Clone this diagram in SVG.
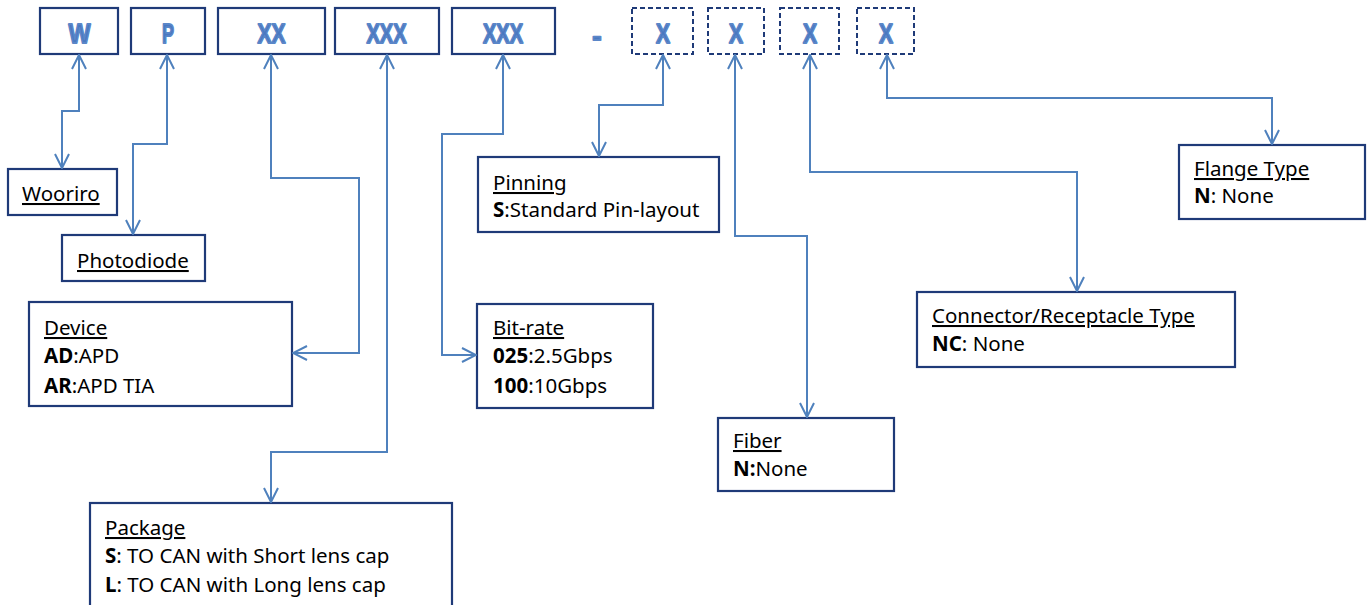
<svg xmlns="http://www.w3.org/2000/svg" width="1370" height="605" viewBox="0 0 1370 605">
<style>
.box{fill:#fff;stroke:#1f3a78;stroke-width:2.2}
.dbox{fill:#fff;stroke:#1f3a78;stroke-width:2;stroke-dasharray:5 3}
.code{font-family:"Liberation Sans",Arial,sans-serif;font-weight:bold;font-size:28px;fill:#4a78c0;stroke:#5a86c8;stroke-width:1.8;stroke-linejoin:round;text-anchor:middle}
.t{font-family:"Noto Sans","Open Sans",sans-serif;font-size:20.5px;fill:#000}
.u{text-decoration:underline}
.b{font-weight:bold}
.conn path{fill:none;stroke:#4f81bd;stroke-width:2}
</style>
<defs>
<marker id="arr" viewBox="0 0 16 16" refX="15" refY="8" markerWidth="16" markerHeight="16" markerUnits="userSpaceOnUse" orient="auto-start-reverse">
<path d="M1,1 L15,8 L1,15" fill="none" stroke="#4f81bd" stroke-width="2"/>
</marker>
</defs>

<g id="code-W"><rect class="box" x="40" y="8" width="78" height="46"/><text class="code" x="79.5" y="42.5" textLength="22" lengthAdjust="spacingAndGlyphs">W</text></g>
<g id="code-P"><rect class="box" x="131" y="8" width="74" height="46"/><text class="code" x="168" y="42.5" textLength="12" lengthAdjust="spacingAndGlyphs">P</text></g>
<g id="code-XX"><rect class="box" x="218" y="8" width="107" height="46"/><text class="code" x="271.5" y="42.5" textLength="28" lengthAdjust="spacingAndGlyphs">XX</text></g>
<g id="code-XXX1"><rect class="box" x="335" y="8" width="104" height="46"/><text class="code" x="386.5" y="42.5" textLength="40" lengthAdjust="spacingAndGlyphs">XXX</text></g>
<g id="code-XXX2"><rect class="box" x="452" y="8" width="103" height="46"/><text class="code" x="503" y="42.5" textLength="40" lengthAdjust="spacingAndGlyphs">XXX</text></g>
<g id="dash"><text class="code" x="597" y="46">-</text></g>
<g id="code-X1"><rect class="dbox" x="632" y="8" width="61" height="46"/><text class="code" x="663" y="42.5" textLength="14" lengthAdjust="spacingAndGlyphs">X</text></g>
<g id="code-X2"><rect class="dbox" x="708" y="8" width="56" height="46"/><text class="code" x="736" y="42.5" textLength="14" lengthAdjust="spacingAndGlyphs">X</text></g>
<g id="code-X3"><rect class="dbox" x="780" y="8" width="59" height="46"/><text class="code" x="810" y="42.5" textLength="14" lengthAdjust="spacingAndGlyphs">X</text></g>
<g id="code-X4"><rect class="dbox" x="857" y="8" width="57" height="46"/><text class="code" x="886" y="42.5" textLength="14" lengthAdjust="spacingAndGlyphs">X</text></g>

<g id="wooriro"><rect class="box" x="8" y="169" width="109" height="46"/><text class="t u" x="22" y="201">Wooriro</text></g>
<g id="photodiode"><rect class="box" x="62" y="235" width="143" height="46"/><text class="t u" x="77" y="268">Photodiode</text></g>
<g id="device"><rect class="box" x="29" y="302" width="263" height="104"/>
<text class="t u" x="44" y="335">Device</text>
<text class="t" x="44" y="363"><tspan class="b">AD</tspan>:APD</text>
<text class="t" x="44" y="393"><tspan class="b">AR</tspan>:APD TIA</text></g>
<g id="package"><rect class="box" x="90" y="503" width="362" height="110"/>
<text class="t u" x="105" y="535">Package</text>
<text class="t" x="105" y="563"><tspan class="b">S</tspan>: TO CAN with Short lens cap</text>
<text class="t" x="105" y="592"><tspan class="b">L</tspan>: TO CAN with Long lens cap</text></g>
<g id="pinning"><rect class="box" x="478" y="157" width="241" height="75"/>
<text class="t u" x="493" y="190">Pinning</text>
<text class="t" x="493" y="217"><tspan class="b">S</tspan>:Standard Pin-layout</text></g>
<g id="bitrate"><rect class="box" x="477" y="304" width="176" height="104"/>
<text class="t u" x="493" y="335">Bit-rate</text>
<text class="t" x="493" y="363"><tspan class="b">025</tspan>:2.5Gbps</text>
<text class="t" x="493" y="393"><tspan class="b">100</tspan>:10Gbps</text></g>
<g id="fiber"><rect class="box" x="718" y="418" width="176" height="73"/>
<text class="t u" x="733" y="448">Fiber</text>
<text class="t" x="733" y="476"><tspan class="b">N:</tspan>None</text></g>
<g id="connector"><rect class="box" x="917" y="292" width="318" height="75"/>
<text class="t u" x="932" y="323">Connector/Receptacle Type</text>
<text class="t" x="932" y="351"><tspan class="b">NC</tspan>: None</text></g>
<g id="flange"><rect class="box" x="1179" y="145" width="186" height="74"/>
<text class="t u" x="1194" y="176">Flange Type</text>
<text class="t" x="1194" y="203"><tspan class="b">N</tspan>: None</text></g>

<g class="conn" id="connectors">
<path d="M79,55 V111 H62 V168" marker-start="url(#arr)" marker-end="url(#arr)"/>
<path d="M167,55 V144 H133 V234" marker-start="url(#arr)" marker-end="url(#arr)"/>
<path d="M271,55 V178 H359 V353 H293" marker-start="url(#arr)" marker-end="url(#arr)"/>
<path d="M387,55 V452 H271 V502" marker-start="url(#arr)" marker-end="url(#arr)"/>
<path d="M503,55 V134 H442 V355 H476" marker-start="url(#arr)" marker-end="url(#arr)"/>
<path d="M663,55 V105 H599 V156" marker-start="url(#arr)" marker-end="url(#arr)"/>
<path d="M735,55 V236 H807 V417" marker-start="url(#arr)" marker-end="url(#arr)"/>
<path d="M810,55 V172 H1077 V291" marker-start="url(#arr)" marker-end="url(#arr)"/>
<path d="M887,55 V98 H1272 V144" marker-start="url(#arr)" marker-end="url(#arr)"/>
</g>
</svg>
